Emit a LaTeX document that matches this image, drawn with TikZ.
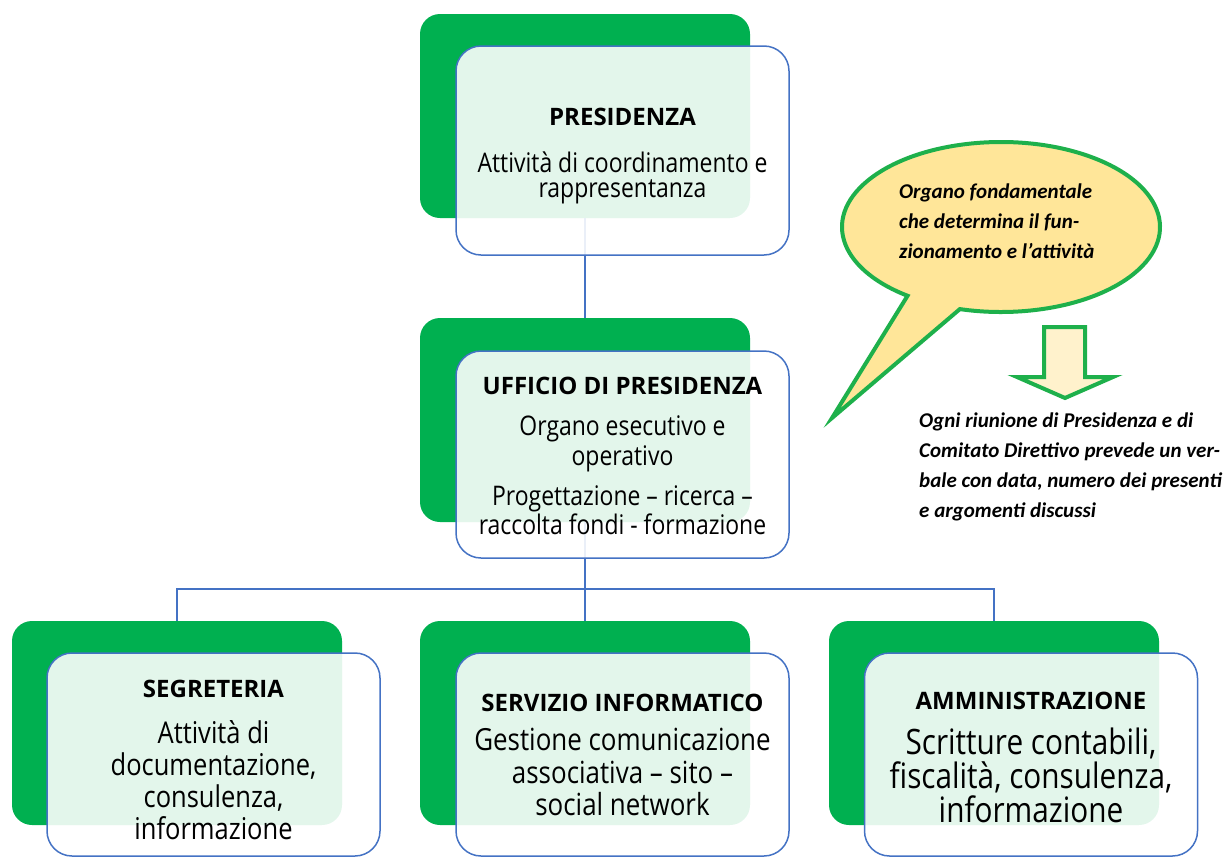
\documentclass[tikz,border=0pt]{standalone}
\usepackage{fontspec}
\setmainfont{Carlito}
\newfontfamily\headfont{Open Sans}
\newfontfamily\bodyfont{Open Sans}[FakeStretch=0.85]
\usepackage{tikz}
\usetikzlibrary{calc}
\definecolor{box_green}{HTML}{00B050}
\definecolor{line_blue}{HTML}{4472C4}
\definecolor{call_green}{HTML}{1EB04B}
\definecolor{call_fill}{HTML}{FFE699}
\definecolor{arrow_fill}{HTML}{FFF2CC}
\lineskiplimit=-50pt
\newcommand{\boxtitle}[2][0pt]{{\headfont\bfseries\fontsize{24}{28}\selectfont\rule{0pt}{#1}#2}}

\begin{document}
\begin{tikzpicture}[x=1pt,y=-1pt,>=stealth,
              back/.style={fill=box_green,rounded corners=20,minimum width=330,minimum height=204,inner sep=0},
              card/.style={draw=line_blue,line width=1.5,fill=white,fill opacity=0.89,text opacity=1,rounded corners=25,minimum width=333,minimum height=207,inner sep=0,align=center},
              link/.style={draw=line_blue,line width=1.5}]
              \useasboundingbox (0,0) rectangle (1227,857);
              \node[back] (pres-bg) at (585,116) {};
              \node[back] (uff-bg) at (585,420) {};
              \node[back] (segr-bg) at (177,723) {};
              \node[back] (serv-bg) at (585,723) {};
              \node[back] (amm-bg) at (994,723) {};
              \draw[link] (pres-bg.south) -- (uff-bg.north);
              \draw[link] (uff-bg.south) -- (serv-bg.north);
              \draw[link] (segr-bg.north) -- ++(0,-32) -| (amm-bg.north);
              \node[card,minimum height=209,font=\bodyfont\fontsize{27}{25}\selectfont] (pres) at (622.5,150.5) {\boxtitle[28pt]{PRESIDENZA}\\[22pt] Attività di coordinamento e\\ rappresentanza};
              \node[card,font=\bodyfont\fontsize{27}{29.5}\selectfont] (uff) at (622.5,454.5) {\boxtitle[21pt]{UFFICIO DI PRESIDENZA}\\[11.5pt] Organo esecutivo e\\ operativo\\[10.5pt] Progettazione – ricerca –\\ raccolta fondi - formazione};
              \node[card,minimum height=203,font=\bodyfont\fontsize{30}{32}\selectfont] (segr) at (213.5,754.5) {\boxtitle[28pt]{SEGRETERIA}\\[14pt] Attività di\\ documentazione,\\ consulenza,\\ informazione};
              \node[card,minimum height=203,font=\bodyfont\fontsize{30.5}{32.5}\selectfont] (serv) at (622.5,754.5) {\boxtitle[19pt]{SERVIZIO INFORMATICO}\\[6.5pt] Gestione comunicazione\\ associativa – sito –\\ social network};
              \node[card,minimum height=203,font=\bodyfont\fontsize{35}{34}\selectfont] (amm) at (1031,754.5) {\boxtitle[24pt]{AMMINISTRAZIONE}\\[11pt] Scritture contabili,\\ fiscalità, consulenza,\\ informazione};
              \coordinate (bubble) at (1001,227);
              \coordinate (tip) at (832,418);
              \draw[line width=4,draw=call_green,fill=call_fill,line join=miter] ($(bubble)+(126:159 and 85)$) arc[start angle=126,end angle=465,x radius=159,y radius=85] -- (tip) -- cycle;
              \node[anchor=north west,align=left,inner sep=0,font=\bfseries\itshape\fontsize{21}{30}\selectfont] (bubble-text) at (899,184) {Organo fondamentale\\ che determina il fun-\\ zionamento e l’attività};
              \draw[line width=4,draw=call_green,fill=arrow_fill,line join=miter] (1044,327) -- (1085,327) -- (1085,377) -- (1113,377) -- (1065,398) -- (1017,377) -- (1044,377) -- cycle;
              \node[anchor=north west,align=left,inner sep=0,font=\bfseries\itshape\fontsize{21}{30}\selectfont] (note) at (919,413) {Ogni riunione di Presidenza e di\\ Comitato Direttivo prevede un ver-\\ bale con data, numero dei presenti\\ e argomenti discussi};
          \end{tikzpicture}
\end{document}
